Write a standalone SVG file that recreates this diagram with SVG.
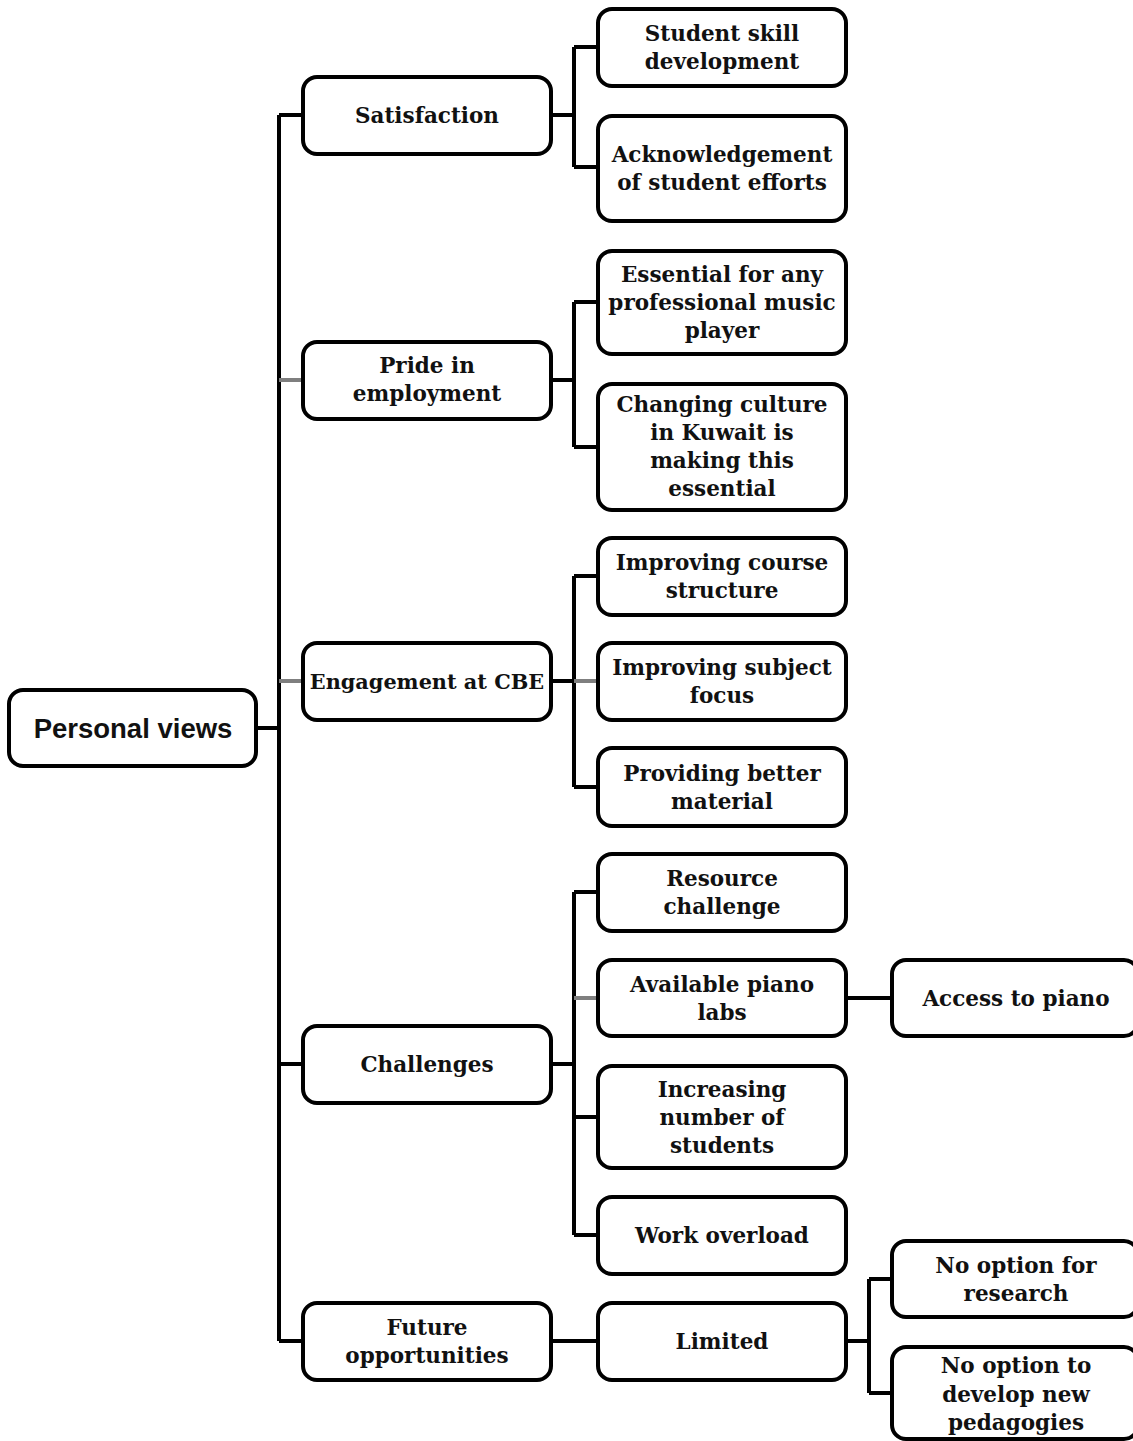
<svg xmlns="http://www.w3.org/2000/svg" width="1133" height="1441" viewBox="0 0 1133 1441">
<style>
.n rect{fill:#fff;stroke:#000;stroke-width:4}
.n text{font-family:"DejaVu Serif","Liberation Serif",serif;font-weight:bold;font-size:21.5px;text-anchor:middle;fill:#111}
#root text{font-family:"Liberation Sans",Arial,sans-serif;font-size:27.5px}
#engagement text{font-size:20.8px}
.c path{fill:none;stroke:#000;stroke-width:4}
.c path.g{stroke:#7f7f7f}
</style>
<rect width="1133" height="1441" fill="#fff"/>
<g class="c">
<path d="M256 728H279M279 115V1341M279 115H303M279 1064H303M279 1341H303"/>
<path class="g" d="M279 380H303M279 681H303"/>
<path d="M551 115H574M574 47V167M574 47H598M574 167H598"/>
<path d="M551 380H574M574 302V447M574 302H598M574 447H598"/>
<path d="M551 681H574M574 576V787M574 576H598M574 787H598"/>
<path class="g" d="M574 681H598"/>
<path d="M551 1064H574M574 892V1235M574 892H598M574 1117H598M574 1235H598"/>
<path class="g" d="M574 998H598"/>
<path d="M846 998H892"/>
<path d="M551 1341H598M846 1341H869M869 1279V1393M869 1279H892M869 1393H892"/>
</g>
<g id="root" class="n"><rect x="9" y="690" width="247" height="76" rx="14"/><text x="133" y="738">Personal views</text></g>
<g id="satisfaction" class="n"><rect x="303" y="77" width="248" height="77" rx="14"/><text x="427" y="123">Satisfaction</text></g>
<g id="pride" class="n"><rect x="303" y="342" width="248" height="77" rx="14"/><text x="427" y="373">Pride in</text><text x="427" y="401">employment</text></g>
<g id="engagement" class="n"><rect x="303" y="643" width="248" height="77" rx="14"/><text x="427" y="689">Engagement at CBE</text></g>
<g id="challenges" class="n"><rect x="303" y="1026" width="248" height="77" rx="14"/><text x="427" y="1072">Challenges</text></g>
<g id="future" class="n"><rect x="303" y="1303" width="248" height="77" rx="14"/><text x="427" y="1335">Future</text><text x="427" y="1363">opportunities</text></g>
<g id="skill" class="n"><rect x="598" y="9" width="248" height="77" rx="14"/><text x="722" y="41">Student skill</text><text x="722" y="69">development</text></g>
<g id="ack" class="n"><rect x="598" y="116" width="248" height="105" rx="14"/><text x="722" y="162">Acknowledgement</text><text x="722" y="190">of student efforts</text></g>
<g id="essential" class="n"><rect x="598" y="251" width="248" height="103" rx="14"/><text x="722" y="282">Essential for any</text><text x="722" y="310">professional music</text><text x="722" y="338">player</text></g>
<g id="culture" class="n"><rect x="598" y="384" width="248" height="126" rx="14"/><text x="722" y="412">Changing culture</text><text x="722" y="440">in Kuwait is</text><text x="722" y="468">making this</text><text x="722" y="496">essential</text></g>
<g id="course" class="n"><rect x="598" y="538" width="248" height="77" rx="14"/><text x="722" y="570">Improving course</text><text x="722" y="598">structure</text></g>
<g id="subject" class="n"><rect x="598" y="643" width="248" height="77" rx="14"/><text x="722" y="675">Improving subject</text><text x="722" y="703">focus</text></g>
<g id="material" class="n"><rect x="598" y="748" width="248" height="78" rx="14"/><text x="722" y="781">Providing better</text><text x="722" y="809">material</text></g>
<g id="resource" class="n"><rect x="598" y="854" width="248" height="77" rx="14"/><text x="722" y="886">Resource</text><text x="722" y="914">challenge</text></g>
<g id="labs" class="n"><rect x="598" y="960" width="248" height="76" rx="14"/><text x="722" y="992">Available piano</text><text x="722" y="1020">labs</text></g>
<g id="access" class="n"><rect x="892" y="960" width="246" height="76" rx="14"/><text x="1016" y="1006">Access to piano</text></g>
<g id="students" class="n"><rect x="598" y="1066" width="248" height="102" rx="14"/><text x="722" y="1097">Increasing</text><text x="722" y="1125">number of</text><text x="722" y="1153">students</text></g>
<g id="overload" class="n"><rect x="598" y="1197" width="248" height="77" rx="14"/><text x="722" y="1243">Work overload</text></g>
<g id="limited" class="n"><rect x="598" y="1303" width="248" height="77" rx="14"/><text x="722" y="1349">Limited</text></g>
<g id="research" class="n"><rect x="892" y="1241" width="246" height="76" rx="14"/><text x="1016" y="1273">No option for</text><text x="1016" y="1301">research</text></g>
<g id="pedagogies" class="n"><rect x="892" y="1347" width="246" height="92" rx="14"/><text x="1016" y="1373">No option to</text><text x="1016" y="1402">develop new</text><text x="1016" y="1430">pedagogies</text></g>
</svg>
